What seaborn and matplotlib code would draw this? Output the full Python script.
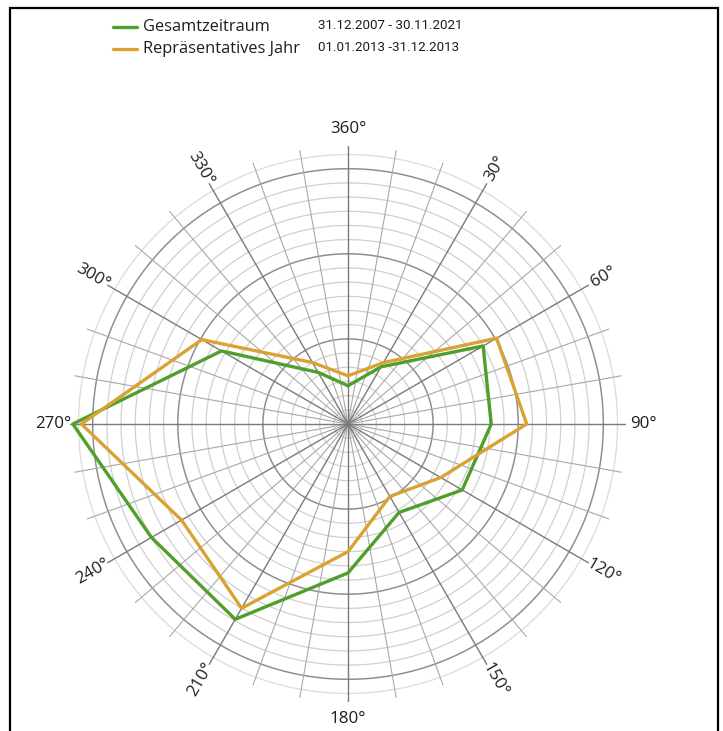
import numpy as np
import pandas as pd
import matplotlib
matplotlib.use("Agg")
import matplotlib.pyplot as plt
import seaborn as sns
from matplotlib.patches import Rectangle
from matplotlib.lines import Line2D

# Wind direction sectors (degrees, clockwise from north) and frequencies per sector
directions = [0, 30, 60, 90, 120, 150, 180, 210, 240, 270, 300, 330]
gesamtzeitraum = [2.7, 4.65, 11.0, 10.1, 9.3, 7.2, 10.5, 15.9, 16.0, 19.4, 10.3, 4.2]
repraesentatives_jahr = [3.4, 5.0, 12.1, 12.6, 7.55, 5.9, 9.0, 15.0, 13.55, 18.8, 11.9, 5.0]

series_names = ["Gesamtzeitraum", "Repräsentatives Jahr"]
series_periods = ["31.12.2007 - 30.11.2021", "01.01.2013 -31.12.2013"]
series_colors = ["#4f9f2a", "#d9a232"]
angle_labels = ["360°", "30°", "60°", "90°", "120°", "150°",
                "180°", "210°", "240°", "270°", "300°", "330°"]

sns.set_style("white")
plt.rcParams["font.family"] = ["Open Sans", "DejaVu Sans"]

W, H = 723, 731
fig = plt.figure(figsize=(W / 100, H / 100), dpi=100)
fig.patch.set_facecolor("white")

# polar axes centred at (348, 424) px with a 278 px radius
cx, cy, rad = 348, 424, 278
ax = fig.add_axes([(cx - rad) / W, (H - cy - rad) / H, 2 * rad / W, 2 * rad / H],
                  projection="polar")
ax.set_theta_zero_location("N")
ax.set_theta_direction(-1)
R_MAX = 19.6
ax.set_ylim(0, R_MAX)
ax.set_xticks([])
ax.set_yticks([])
ax.grid(False)
ax.spines["polar"].set_visible(False)
ax.set_facecolor("none")

# concentric rings: light every unit, darker every 6 units
full = np.linspace(0, 2 * np.pi, 721)
for k in range(1, 20):
    if k % 6 == 0:
        col, lw = "#8f8f8f", 1.1
    elif k == 19:
        col, lw = "#dedede", 1.0
    else:
        col, lw = "#d0d0d0", 0.9
    ax.plot(full, np.full_like(full, k), color=col, lw=lw, zorder=1)

# radial spokes: every 10°, darker every 30°
for d in range(0, 360, 10):
    t = np.radians(d)
    if d % 30 == 0:
        ax.plot([t, t], [0, R_MAX], color="#7a7a7a", lw=1.0, zorder=2)
    else:
        ax.plot([t, t], [0, R_MAX], color="#a8a8a8", lw=0.8, zorder=1.5)

# data polygons (closed)
frames = []
for name, vals in zip(series_names, [gesamtzeitraum, repraesentatives_jahr]):
    th = np.radians(directions + [directions[0] + 360])
    frames.append(pd.DataFrame({"theta": th, "r": vals + [vals[0]], "series": name}))
df = pd.concat(frames, ignore_index=True)

sns.lineplot(data=df, x="theta", y="r", hue="series", hue_order=series_names,
             palette=dict(zip(series_names, series_colors)), sort=False,
             estimator=None, legend=False, lw=2.4, ax=ax, zorder=5)
ax.set_xlabel("")
ax.set_ylabel("")
ax.set_ylim(0, R_MAX)

# direction labels, rotated along their spoke
for d, lab in zip(directions, angle_labels):
    rot = 90 - d
    while rot > 90:
        rot -= 180
    while rot <= -90:
        rot += 180
    if d in (0, 180):
        rot = 0
    ax.text(np.radians(d), 20.8, lab, rotation=rot, rotation_mode="anchor",
            ha="center", va="center", fontsize=12.2, color="#1e1e1e", clip_on=False)

# legend rows
rows_y = [27, 49]
for y, name, period, col in zip(rows_y, series_names, series_periods, series_colors):
    fy = 1 - y / H
    fig.add_artist(Line2D([113 / W, 137 / W], [fy, fy], color=col, lw=2.4))
    fig.text(143 / W, fy, name, ha="left", va="center", fontsize=11.8, color="#1e1e1e")
    fig.text(318 / W, fy + 1.5 / H, period, ha="left", va="center", fontsize=9.6,
             color="#1e1e1e", family=["Roboto", "DejaVu Sans"])

# outer frame (open at the bottom edge)
fig.add_artist(Rectangle((10 / W, -0.05), 708 / W, 1.05 - 8 / H,
                         transform=fig.transFigure, fill=False, ec="black", lw=1.6))

fig.savefig("out.png", dpi=100, facecolor="white")
